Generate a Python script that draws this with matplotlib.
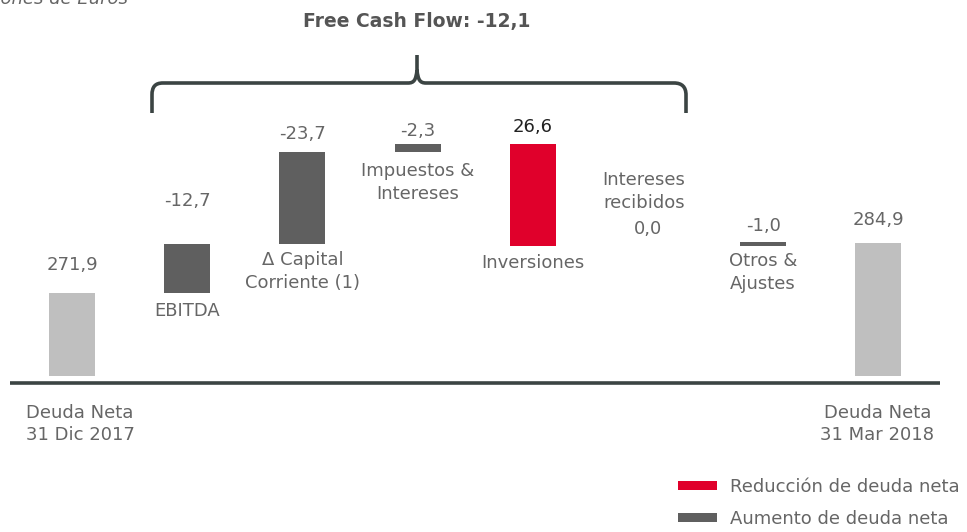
import matplotlib
matplotlib.use("Agg")
import matplotlib.pyplot as plt
from matplotlib.path import Path
from matplotlib.patches import PathPatch, Rectangle

plt.rcParams["font.family"] = ["DejaVu Sans"]

# ---------------- data ----------------
categories = ["Deuda Neta\n31 Dic 2017", "EBITDA", "Δ Capital\nCorriente (1)",
              "Impuestos &\nIntereses", "Inversiones", "Intereses\nrecibidos",
              "Otros &\nAjustes", "Deuda Neta\n31 Mar 2018"]
start_value = 271.9
end_value = 284.9
deltas = [12.7, 23.7, 2.3, -26.6, 0.0, 1.0]          # change in net debt
value_labels = ["271,9", "-12,7", "-23,7", "-2,3", "26,6", "0,0", "-1,0", "284,9"]
title_text = "Free Cash Flow: -12,1"
unit_text = "Millones de Euros"
legend_labels = ["Reducción de deuda neta", "Aumento de deuda neta"]

# ---------------- style ----------------
W, H = 967, 532
C_TOTAL = "#BFBFBF"
C_UP = "#5F5F5F"
C_DOWN = "#E0002B"
C_TEXT = "#666666"
C_LINE = "#3B4443"
FS = 13
LS = 1.35
FLOOR = 250.4          # broken-axis floor for total bars
BAR_W = 0.4

fig = plt.figure(figsize=(W / 100, H / 100), dpi=100)
ax = fig.add_axes([0, 0, 1, 1])
ax.set_xlim(-0.625, 7.769)
ax.set_ylim(210.0, 347.8)
ax.axis("off")

def fx(x):
    return x / W

def fy(y):
    return 1 - y / H

# ---------------- bars ----------------
n = len(categories)
tops, bottoms, colors = [], [], []
tops.append(start_value); bottoms.append(FLOOR); colors.append(C_TOTAL)
level = start_value
for d in deltas:
    new = level + d
    tops.append(max(level, new)); bottoms.append(min(level, new))
    colors.append(C_DOWN if d < 0 else C_UP)
    level = new
tops.append(end_value); bottoms.append(FLOOR); colors.append(C_TOTAL)

for i in range(n):
    h = tops[i] - bottoms[i]
    if h <= 0:
        continue
    ax.bar(i, h, bottom=bottoms[i], width=BAR_W, color=colors[i], linewidth=0)

# baseline
ax.plot([fx(10), fx(940)], [fy(383), fy(383)], transform=fig.transFigure,
        color=C_LINE, lw=2.6, solid_capstyle="butt")

# ---------------- value labels (offset in pixels from bar top) ----------------
val_offsets = [28, 43, 18, 13, 17, 17, 16, 23]
for i in range(n):
    col = "#222222" if i == 4 else C_TEXT
    ax.annotate(value_labels[i], xy=(i, tops[i]), xytext=(0, val_offsets[i]),
                textcoords="offset pixels", ha="center", va="center",
                fontsize=FS, color=col)

# ---------------- category labels ----------------
cat_pos = {
    1: ("bottom", -18),
    2: ("bottom", -27.5),
    3: ("bottom", -30),
    4: ("bottom", -17),
    5: ("top", 54.5),
    6: ("bottom", -26.5),
}
for i, (anchor, off) in cat_pos.items():
    yref = bottoms[i] if anchor == "bottom" else tops[i]
    xs = -4 if i == 5 else 0
    ax.annotate(categories[i], xy=(i, yref), xytext=(xs, off),
                textcoords="offset pixels", ha="center", va="center",
                fontsize=FS, color=C_TEXT, linespacing=LS)

# total labels below baseline
for i, xshift in [(0, 8), (n - 1, -1)]:
    ax.annotate(categories[i], xy=(i, FLOOR), xytext=(xshift, -(424 - 376)),
                textcoords="offset pixels", ha="center", va="center",
                fontsize=FS, color=C_TEXT, linespacing=LS)

# ---------------- title & unit ----------------
fig.text(fx(417), fy(21), title_text, ha="center", va="center",
         fontsize=13.5, fontweight="bold", color="#555555")
fig.text(fx(128), fy(4), unit_text, ha="right", va="baseline",
         fontsize=FS, style="italic", color=C_TEXT)

# ---------------- brace ----------------
pts = [(152, 113), (152, 95), (152, 87), (155, 83), (163, 83), (408, 83),
       (414, 83), (416, 80), (417, 70), (417, 55),
       (417, 70), (418, 80), (420, 83), (426, 83), (674, 83),
       (682, 83), (686, 87), (686, 95), (686, 113)]
codes = [Path.MOVETO, Path.LINETO, Path.CURVE4, Path.CURVE4, Path.CURVE4, Path.LINETO,
         Path.CURVE4, Path.CURVE4, Path.CURVE4, Path.LINETO,
         Path.MOVETO, Path.CURVE4, Path.CURVE4, Path.CURVE4, Path.LINETO,
         Path.CURVE4, Path.CURVE4, Path.CURVE4, Path.LINETO]
brace = Path([(fx(x), fy(y)) for x, y in pts], codes)
fig.patches.append(PathPatch(brace, transform=fig.transFigure, fill=False,
                             edgecolor=C_LINE, lw=2.6, capstyle="butt"))

# ---------------- legend ----------------
for k, (lbl, c) in enumerate(zip(legend_labels, [C_DOWN, C_UP])):
    yc = 486 + 32 * k
    fig.patches.append(Rectangle((fx(678), fy(yc + 4)), (717 - 678) / W, 9 / H,
                                 transform=fig.transFigure, color=c, lw=0))
    fig.text(fx(730), fy(yc + 1), lbl, ha="left", va="center",
             fontsize=FS, color=C_TEXT)

fig.savefig("out.png", dpi=100)
